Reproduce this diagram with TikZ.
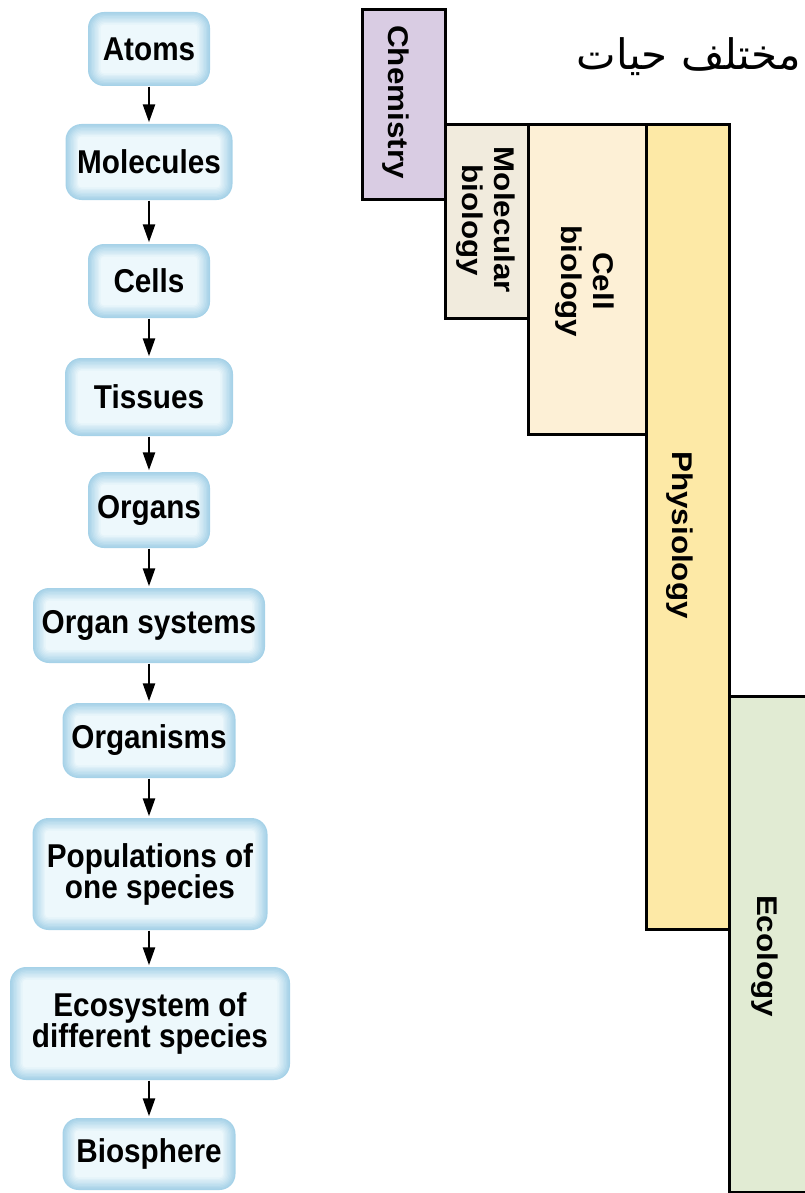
\documentclass[tikz,border=0pt]{standalone}
\usepackage{fontspec}
\setmainfont{Liberation Sans}
\newfontfamily\hfont[FakeStretch=0.9]{Liberation Sans}
\newfontfamily\vfont[FakeStretch=1.1]{Liberation Sans}
\newfontfamily\arabicfont[Script=Arabic]{DejaVu Sans}
\TeXXeTstate=1
\usetikzlibrary{arrows.meta}
\definecolor{boxout}{HTML}{A6D2E8}
\definecolor{boxin}{HTML}{EEF8FC}
\definecolor{chemc}{HTML}{D9CCE3}
\definecolor{molc}{HTML}{F1EBDD}
\definecolor{cellc}{HTML}{FDF0D6}
\definecolor{physc}{HTML}{FDE9A6}
\definecolor{ecoc}{HTML}{E1EBD3}
\tikzset{
  lbl/.style={font=\hfont\fontsize{33}{31}\selectfont\bfseries, align=center},
  lvl/.style={lbl, rounded corners=16pt, fill=boxout, inner sep=0pt,
    path picture={
      \foreach \k [evaluate=\k as \p using 11*\k, evaluate=\k as \r using {max(16-1.4*\k,2)}] in {1,...,9}{
        \fill[boxin!\p!boxout, rounded corners=\r pt]
          ([shift={(1.4*\k pt,-1.4*\k pt)}]path picture bounding box.north west) rectangle
          ([shift={(-1.4*\k pt,1.4*\k pt)}]path picture bounding box.south east);
      }
    }},
  arr/.style={line width=2.5pt, -{Triangle[width=12pt,length=18pt]}, shorten >=1.5pt, shorten <=0.5pt},
  bar/.style={draw=black, line width=3pt, inner sep=0pt, anchor=north west},
  vlbl/.style={font=\vfont\fontsize{28.5}{32}\selectfont\bfseries, align=center, rotate=-90}
}
\begin{document}
\begin{tikzpicture}[x=1pt,y=-1pt]
\useasboundingbox (0,0) rectangle (804,1193);
% bars
\node[bar, fill=chemc, minimum width=83pt, minimum height=190pt] (chem) at (361,8) {};
\node[bar, fill=molc, minimum width=83pt, minimum height=194pt] (mol) at (444,123) {};
\node[bar, fill=cellc, minimum width=118pt, minimum height=310pt] (cell) at (527,123) {};
\node[bar, fill=physc, minimum width=83pt, minimum height=805pt] (phys) at (645,123) {};
\node[bar, fill=ecoc, minimum width=90pt, minimum height=496pt] (eco) at (728,695) {};
\node[vlbl] (chemt) at (396,102) {Chemistry};
\node[vlbl] (molt) at (486,220) {Molecular\\biology};
\node[vlbl] (cellt) at (585,281) {Cell\\biology};
\node[vlbl] (phyt) at (680,535) {Physiology};
\node[vlbl] (ecot) at (765,956) {Ecology};
% arabic title
\node[anchor=east, font=\fontsize{42}{46}\selectfont, inner sep=0pt] (title) at (801,57) {\arabicfont\beginR مختلف حيات\endR};
% hierarchy boxes
\node[lvl, minimum width=122pt, minimum height=74pt] (atoms) at (149,49) {Atoms};
\node[lvl, minimum width=167pt, minimum height=76pt] (molecules) at (149,162) {Molecules};
\node[lvl, minimum width=122pt, minimum height=74pt] (cells) at (149,281) {Cells};
\node[lvl, minimum width=168pt, minimum height=78pt] (tissues) at (149,397) {Tissues};
\node[lvl, minimum width=122pt, minimum height=76pt] (organs) at (149,510) {Organs};
\node[lvl, minimum width=232pt, minimum height=75pt] (systems) at (149,625.5) {Organ systems};
\node[lvl, minimum width=173pt, minimum height=75pt] (organisms) at (149,740.5) {Organisms};
\node[lvl, minimum width=235pt, minimum height=112pt] (pops) at (150,874) {Populations of\\one species};
\node[lvl, minimum width=280pt, minimum height=113pt] (ecosys) at (150,1023.5) {Ecosystem of\\different species};
\node[lvl, minimum width=173pt, minimum height=72pt] (bios) at (149,1154) {Biosphere};
% arrows
\coordinate (axis) at (149,0);
\foreach \a/\b in {atoms/molecules, molecules/cells, cells/tissues, tissues/organs, organs/systems, systems/organisms, organisms/pops, pops/ecosys, ecosys/bios}{
  \draw[arr] (axis |- \a.south) -- (axis |- \b.north);
}
\end{tikzpicture}
\end{document}
